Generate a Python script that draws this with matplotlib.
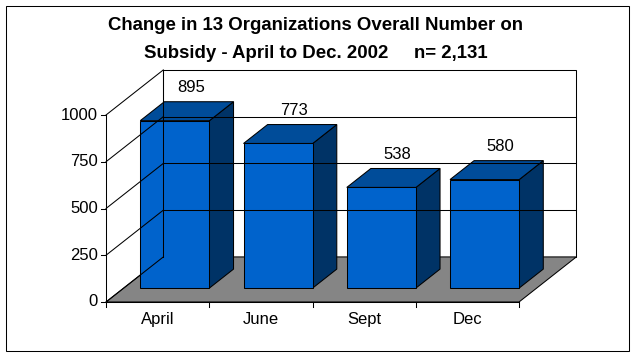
import matplotlib
matplotlib.use('Agg')
import matplotlib.pyplot as plt
from matplotlib.patches import Polygon, Rectangle

plt.rcParams['font.family'] = ['Liberation Sans', 'DejaVu Sans']

# data
months = ['April', 'June', 'Sept', 'Dec']
counts = [895, 773, 538, 580]
yticks = [0, 250, 500, 750, 1000]
title1 = 'Change in 13 Organizations Overall Number on'
title2 = 'Subsidy - April to Dec. 2002     n= 2,131'

# 3d look: depth shift of the back wall, in data units
DX = 0.555
DY = 241.0
f0, f1 = 0.31, 0.73        # bar front / back depth
b0, bw = 0.16, 0.67        # bar start / width in a category

c_front = '#0063cc'
c_top = '#004c99'
c_side = '#003366'
c_floor = '#858585'
lw = 0.75
fs = 12

fig = plt.figure(figsize=(6.38, 3.58), dpi=100)
ax = fig.add_axes([106/638, 56/358, 413/638, 187/358])
ax.set_xlim(0, 4)
ax.set_ylim(0, 1000)
ax.axis('off')

def P(x, y, d):
    return (x + d*DX, y + d*DY)

# back wall
ax.add_patch(Polygon([P(0, 0, 1), P(4, 0, 1), P(4, 1000, 1), P(0, 1000, 1)],
                     closed=True, fc='white', ec='black', lw=lw, clip_on=False))
for v in yticks[1:-1]:
    ax.plot([DX, 4+DX], [v+DY, v+DY], color='black', lw=lw, clip_on=False)
# left wall gridlines
for v in yticks:
    ax.plot([0, DX], [v, v+DY], color='black', lw=lw, clip_on=False)
ax.plot([DX, DX], [DY, 1000+DY], color='black', lw=lw, clip_on=False)

# floor
ax.add_patch(Polygon([P(0, 0, 0), P(4, 0, 0), P(4, 0, 1), P(0, 0, 1)],
                     closed=True, fc=c_floor, ec='black', lw=lw, clip_on=False))

# axis lines and ticks
ax.plot([0, 0], [0, 1000], color='black', lw=lw, clip_on=False)
ax.plot([0, 4], [0, 0], color='black', lw=lw, clip_on=False)
tx = 5/103.25
ty = 5/0.187
for v in yticks:
    ax.plot([-tx, 0], [v, v], color='black', lw=lw, clip_on=False)
    ax.text(-8/103.25, v, str(v), ha='right', va='center', fontsize=fs)
for i in range(5):
    ax.plot([i, i], [0, -ty], color='black', lw=lw, clip_on=False)

# bars
for i, (m, v) in enumerate(zip(months, counts)):
    x0 = i + b0
    x1 = x0 + bw
    front = [P(x0, 0, f0), P(x1, 0, f0), P(x1, v, f0), P(x0, v, f0)]
    top = [P(x0, v, f0), P(x1, v, f0), P(x1, v, f1), P(x0, v, f1)]
    side = [P(x1, 0, f0), P(x1, 0, f1), P(x1, v, f1), P(x1, v, f0)]
    for pts, c in [(side, c_side), (top, c_top), (front, c_front)]:
        ax.add_patch(Polygon(pts, closed=True, fc=c, ec='black', lw=lw,
                             clip_on=False))
    lx, ly = P(i + 0.49, v, 0.6)
    ax.text(lx, ly + 108, str(v), ha='center', va='center', fontsize=fs)
    ax.text(i + 0.5, -91, m, ha='center', va='center', fontsize=fs)

# title
fig.text(316/638, 1 - 26/358, title1, ha='center', va='center',
         fontsize=13.4, fontweight='bold')
fig.text(316/638, 1 - 53/358, title2, ha='center', va='center',
         fontsize=13.4, fontweight='bold')

# outer border
fig.add_artist(Rectangle((6/638, 7/358), 623/638, 345/358,
                         transform=fig.transFigure, fill=False,
                         ec='black', lw=lw))

fig.savefig('out.png', dpi=100)
